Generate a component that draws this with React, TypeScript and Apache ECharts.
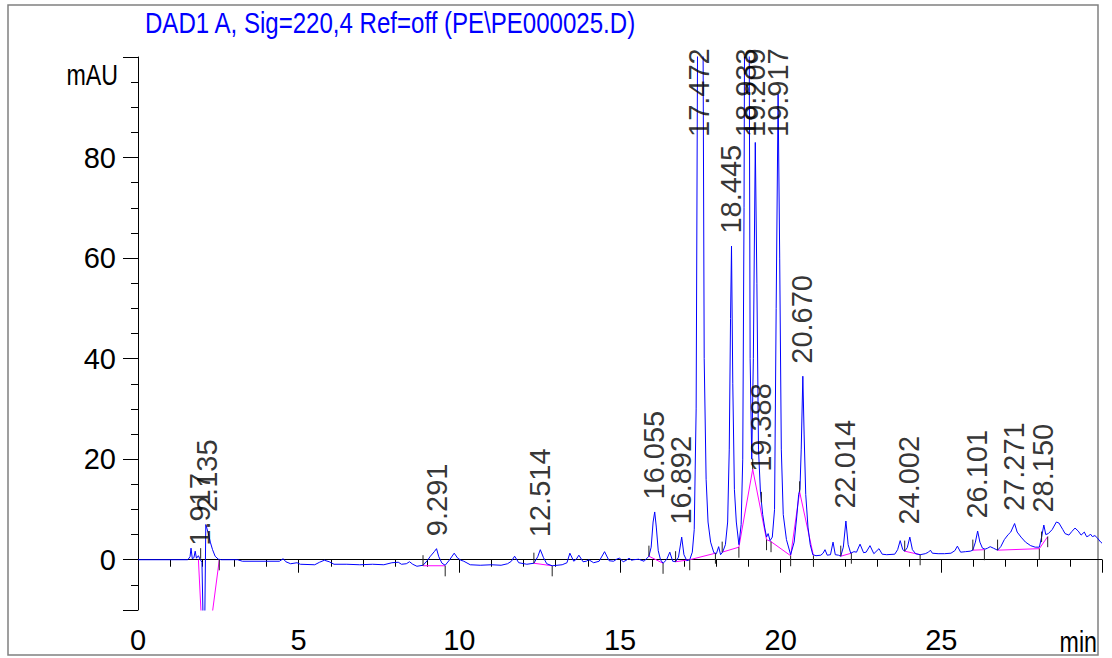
import React, { useEffect, useRef } from "react";
import * as echarts from "echarts";

const TITLE = "DAD1 A, Sig=220,4 Ref=off (PE\\PE000025.D)";
const Y_UNIT = "mAU";
const X_UNIT = "min";

const xMajorTicks = [0, 5, 10, 15, 20, 25, 30];
const xLabels = [0, 5, 10, 15, 20, 25];
const xMinorTicks = [1, 2, 3, 4, 6, 7, 8, 9, 11, 12, 13, 14, 16, 17, 18, 19, 21, 22, 23, 24, 26, 27, 28, 29];
const yMajorTicks = [-10, 0, 20, 40, 60, 80, 100];
const yLabels = [0, 20, 40, 60, 80];
const yMinorTicks = [-5, 5, 10, 15, 25, 30, 35, 45, 50, 55, 65, 70, 75, 85, 90, 95];

// chromatogram trace [time (min), signal (mAU)]
const signal: [number, number][] = [
  [0, 0], [1.55, 0], [1.62, 0.6], [1.65, 2.3], [1.69, 0.2], [1.74, 0.4], [1.78, 1.7], [1.82, 0.3],
  [1.88, 0.8], [1.93, 0.1], [1.99, -0.5], [2.06, -23], [2.11, 7], [2.19, 5.2], [2.25, 3.5], [2.32, 2.0],
  [2.40, 0.7], [2.50, 0.1], [2.6, 0], [3.10, 0], [3.25, -0.3], [4.40, -0.3], [4.52, 0.2], [4.60, -0.4],
  [4.75, -0.8], [4.95, -0.6], [5.05, -0.9], [5.5, -1.0], [5.65, -0.5], [5.80, -0.1], [5.95, -0.4],
  [6.10, -0.9], [6.5, -0.9], [6.9, -1.0], [7.3, -0.9], [7.65, -1.0], [7.9, -0.6], [8.1, -0.5],
  [8.2, -0.9], [8.35, -0.8], [8.45, -0.4], [8.55, -0.9], [8.68, -1.3], [8.87, -1.1], [9.00, -0.2],
  [9.10, 0.7], [9.22, 1.6], [9.29, 2.2], [9.36, 0.6], [9.46, -0.7], [9.56, -1.1], [9.70, 0.0],
  [9.84, 1.3], [9.95, 0.3], [10.05, -0.1], [10.14, -0.3], [10.34, -1.0], [10.65, -1.1], [11.0, -1.0],
  [11.3, -1.1], [11.5, -0.8], [11.62, -0.3], [11.72, 0.7], [11.85, -0.6], [12.1, -0.9], [12.32, -0.7],
  [12.44, 0.6], [12.52, 2.0], [12.62, 0.4], [12.72, -0.8], [12.89, -1.2], [13.2, -1.0], [13.35, -0.6],
  [13.44, 1.3], [13.56, -0.3], [13.64, 0.1], [13.72, 0.9], [13.85, -0.4], [13.95, -0.3], [14.03, 0.0],
  [14.18, -0.6], [14.35, -0.3], [14.52, 1.6], [14.66, -0.2], [14.80, -0.3], [14.92, 0.2], [14.99, 0.3],
  [15.10, -0.4], [15.2, -0.1], [15.28, 0.3], [15.36, -0.1], [15.43, 0.0], [15.58, 0.1], [15.75, -0.3],
  [15.90, 0.7], [15.97, 2.5], [16.03, 7.5], [16.08, 9.5], [16.13, 6.5], [16.19, 1.8], [16.26, 0.0],
  [16.34, -0.7], [16.45, 0.0], [16.55, 1.5], [16.64, -0.3], [16.73, -0.4], [16.82, 0.5], [16.92, 4.5],
  [16.99, 1.0], [17.08, -0.2], [17.17, 0.0], [17.25, 1.5], [17.31, 6], [17.37, 30], [17.43, 130],
  [17.50, 190], [17.57, 130], [17.62, 40], [17.68, 16], [17.74, 7.5], [17.82, 3.5], [17.92, 1.4],
  [18.00, 1.2], [18.07, 2.6], [18.13, 1.0], [18.20, 1.6], [18.28, 3.0], [18.35, 7.5], [18.40, 22],
  [18.44, 48], [18.47, 62.4], [18.51, 35], [18.56, 14], [18.62, 7.5], [18.70, 3.0], [18.77, 7],
  [18.82, 20], [18.86, 70], [18.90, 160], [18.95, 210], [19.00, 150], [19.05, 40], [19.10, 20],
  [19.15, 40], [19.21, 83], [19.26, 55], [19.31, 22], [19.37, 13.5], [19.44, 9], [19.50, 6.5],
  [19.56, 4.5], [19.61, 5.2], [19.67, 3.8], [19.74, 4.5], [19.81, 10], [19.86, 50], [19.92, 92.6],
  [19.97, 60], [20.02, 22], [20.08, 9], [20.18, 4], [20.31, 1.0], [20.42, 3.5], [20.50, 8.5],
  [20.56, 13], [20.60, 14], [20.64, 22], [20.69, 36.5], [20.73, 25], [20.78, 13], [20.85, 6.5],
  [20.92, 3], [21.00, 1.0], [21.10, 0.8], [21.25, 0.9], [21.32, 1.3], [21.38, 2.0], [21.45, 0.9],
  [21.55, 1.0], [21.63, 3.5], [21.70, 1.0], [21.80, 0.9], [21.87, 0.7], [21.95, 2.5], [22.03, 7.7],
  [22.10, 3.0], [22.18, 1.3], [22.28, 1.6], [22.36, 1.5], [22.47, 3.1], [22.58, 1.4], [22.66, 1.5],
  [22.78, 2.8], [22.90, 1.2], [23.06, 2.2], [23.16, 1.1], [23.3, 1.0], [23.55, 1.1], [23.64, 2.0],
  [23.72, 3.8], [23.80, 2.0], [23.86, 1.7], [23.94, 2.4], [24.02, 4.5], [24.10, 2.0], [24.20, 1.2],
  [24.34, 1.0], [24.50, 1.2], [24.60, 1.5], [24.66, 1.9], [24.72, 1.3], [24.90, 1.2], [25.10, 1.2],
  [25.30, 1.3], [25.42, 1.8], [25.50, 2.7], [25.60, 1.5], [25.75, 1.6], [25.90, 1.7], [25.98, 1.9],
  [26.06, 3.5], [26.13, 5.7], [26.20, 3.5], [26.28, 2.3], [26.36, 2.1], [26.44, 2.3], [26.52, 2.6],
  [26.62, 2.3], [26.75, 1.9], [26.85, 2.6], [26.96, 4.0], [27.08, 5.0], [27.16, 5.5], [27.28, 7.2],
  [27.36, 5.5], [27.48, 4.5], [27.62, 3.5], [27.78, 2.8], [27.92, 2.5], [28.05, 2.5], [28.12, 4.5],
  [28.19, 6.9], [28.25, 5.0], [28.33, 5.2], [28.45, 6.0], [28.58, 7.5], [28.66, 7.3], [28.78, 6.0],
  [28.85, 5.2], [28.97, 4.9], [29.06, 5.6], [29.16, 6.3], [29.26, 5.7], [29.35, 4.9], [29.45, 5.5],
  [29.52, 4.6], [29.58, 4.7], [29.64, 5.1], [29.70, 4.6], [29.78, 4.8], [29.86, 4.3], [29.96, 3.5],
  [30.0, 3.3],
];

// integrated peaks: label, retention time, apex height
const peakLabels = ["1.917", "2.135", "9.291", "12.514", "16.055", "16.892", "17.472", "18.445", "18.933",
  "19.209", "19.388", "19.917", "20.670", "22.014", "24.002", "26.101", "27.271", "28.150"];
const peakTimes = [1.917, 2.135, 9.291, 12.514, 16.055, 16.892, 17.472, 18.445, 18.933,
  19.209, 19.388, 19.917, 20.670, 22.014, 24.002, 26.101, 27.271, 28.150];
const peakApex = [0.3, 7, 2.2, 2.0, 9.5, 4.5, 190, 62.4, 210, 83, 15, 92.6, 36.5, 7.7, 4.5, 5.7, 7.2, 6.9];

// integration baselines (each a polyline)
const baselines: [number, number][][] = [
  [[1.88, 0], [2.06, -23], [2.53, 0]],
  [[8.87, -1.2], [9.56, -1.2]],
  [[12.32, -0.7], [12.89, -1.2]],
  [[15.90, 0.7], [16.34, -0.7]],
  [[16.73, -0.4], [17.17, 0.0], [17.97, 1.3]],
  [[18.18, 1.5], [18.70, 2.5], [19.13, 18], [19.56, 4.0], [19.70, 3.6], [20.31, 0.8], [20.59, 13.5], [21.02, 0.8]],
  [[21.87, 0.7], [22.20, 1.3]],
  [[23.86, 1.7], [24.34, 1.0]],
  [[25.98, 1.9], [26.34, 2.0]],
  [[26.75, 1.9], [28.05, 2.2], [28.31, 4.6]],
];

// peak start (+1) / end (-1) markers: time, level, direction
const boundaryMarks: [number, number, number][] = [
  [1.95, 0.2, 1], [2.53, 0, -1], [8.87, -1.2, 1], [9.56, -1.2, -1], [12.32, -0.7, 1], [12.89, -1.2, -1],
  [15.90, 0.7, 1], [16.34, -0.7, -1], [16.73, -0.4, 1], [17.17, 0.0, -1], [17.97, 1.3, -1], [18.18, 1.5, 1],
  [18.70, 2.5, -1], [19.13, 18, 1], [19.40, 11.4, 1], [19.56, 4.0, -1], [19.70, 3.6, -1], [20.31, 0.8, -1],
  [20.59, 13.5, 1], [21.02, 0.8, -1], [21.87, 0.7, 1], [22.20, 1.3, -1], [23.86, 1.7, 1], [24.34, 1.0, -1],
  [25.98, 1.9, 1], [26.34, 2.0, -1], [26.75, 1.9, 1], [28.05, 2.2, -1], [28.12, 3.5, 1], [28.31, 4.6, -1],
];

const MARK_LEN = 2.1;
const LABEL_CEILING = 81.6;
const REG = "'Liberation Sans', Arial, Helvetica, sans-serif";
const NARROW_SCALE = 0.8;
const TITLE_SCALE = 0.83;

export default function App() {
  const ref = useRef<HTMLDivElement>(null);
  useEffect(() => {
    if (!ref.current) return;
    const chart = echarts.init(ref.current, undefined, { renderer: "svg" });

    const baselineData: any[] = [];
    baselines.forEach((seg) => {
      seg.forEach((p) => baselineData.push(p));
      baselineData.push([seg[seg.length - 1][0], "-"]);
    });
    const markData: any[] = [];
    boundaryMarks.forEach(([t, v, d]) => {
      markData.push([t, v]);
      markData.push([t, v + d * MARK_LEN]);
      markData.push([t, "-"]);
    });
    const labelData = peakLabels.map((name, i) => ({
      name,
      value: [peakTimes[i], Math.min(peakApex[i], LABEL_CEILING)],
    }));

    chart.setOption({
      animation: false,
      backgroundColor: "#fff",
      grid: { left: 138, right: 10, top: 57, bottom: 48 },
      xAxis: [
        {
          type: "value", min: 0, max: 30, position: "bottom",
          axisLine: { show: true, lineStyle: { color: "#000", width: 1 } },
          axisTick: { show: true, customValues: xMajorTicks, length: 13, lineStyle: { color: "#000" } },
          axisLabel: { customValues: xLabels, fontSize: 29, color: "#000", margin: 15, fontFamily: REG },
          splitLine: { show: false },
        },
        {
          type: "value", min: 0, max: 30, position: "bottom",
          axisLine: { show: false },
          axisTick: { show: true, customValues: xMinorTicks, length: 7, lineStyle: { color: "#000" } },
          axisLabel: { show: false },
          splitLine: { show: false },
        },
      ],
      yAxis: [
        {
          type: "value", min: -10, max: 100, position: "left",
          axisLine: { show: true, lineStyle: { color: "#000", width: 1 } },
          axisTick: { show: true, customValues: yMajorTicks, length: 15, lineStyle: { color: "#000" } },
          axisLabel: { customValues: yLabels, fontSize: 29, color: "#000", margin: 22, fontFamily: REG },
          splitLine: { show: false },
        },
        {
          type: "value", min: -10, max: 100, position: "left",
          axisLine: { show: false },
          axisTick: { show: true, customValues: yMinorTicks, length: 7, lineStyle: { color: "#000" } },
          axisLabel: { show: false },
          splitLine: { show: false },
        },
      ],
      graphic: [
        {
          type: "rect", silent: true, z: -1,
          shape: { x: 8, y: 5, width: 1090, height: 650 },
          style: { fill: "none", stroke: "#808080", lineWidth: 1.5 },
        },
        {
          type: "text", x: 145, y: 23, scaleX: TITLE_SCALE,
          style: { text: TITLE, fontSize: 29, fill: "#0000ff", align: "left", verticalAlign: "middle", fontFamily: REG },
        },
        {
          type: "text", x: 118, y: 75, scaleX: NARROW_SCALE,
          style: { text: Y_UNIT, fontSize: 29, fill: "#000", align: "right", verticalAlign: "middle", fontFamily: REG },
        },
        {
          type: "text", x: 1097, y: 642, scaleX: NARROW_SCALE,
          style: { text: X_UNIT, fontSize: 29, fill: "#000", align: "right", verticalAlign: "middle", fontFamily: REG },
        },
      ],
      series: [
        {
          type: "line", data: baselineData, showSymbol: false, symbol: "none", connectNulls: false,
          lineStyle: { color: "#ff00ff", width: 1 }, z: 2,
        },
        {
          type: "line", data: signal, showSymbol: false, symbol: "none",
          lineStyle: { color: "#0000ff", width: 1 }, z: 3,
        },
        {
          type: "line", data: markData, showSymbol: false, symbol: "none", connectNulls: false,
          lineStyle: { color: "#222", width: 1 }, z: 4,
        },
        {
          type: "scatter", data: labelData, symbolSize: 1, itemStyle: { color: "rgba(0,0,0,0)" }, z: 5,
          label: {
            show: true, formatter: "{b}", position: "top", distance: 12, rotate: 90,
            align: "left", verticalAlign: "middle", fontSize: 29, color: "#000", fontFamily: REG,
          },
        },
      ],
    });
    return () => chart.dispose();
  }, []);
  return (
    <div
      ref={ref}
      style={{ position: "fixed", left: 0, top: 0, width: 1112, height: 658, background: "#fff" }}
    />
  );
}
